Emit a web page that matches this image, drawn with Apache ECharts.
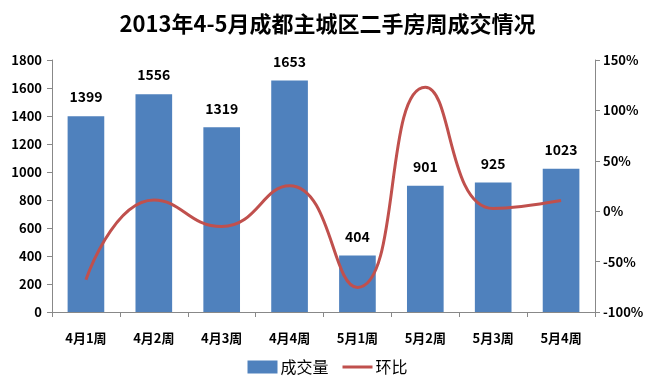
<!DOCTYPE html>
<html><head><meta charset="utf-8">
<script src="https://cdn.jsdelivr.net/npm/echarts@6/dist/echarts.min.js"></script>
<style>html,body{margin:0;padding:0;background:#fff}#c{width:655px;height:378px}</style>
</head><body><div id="c"></div>
<script>
const categories = ['4月1周','4月2周','4月3周','4月4周','5月1周','5月2周','5月3周','5月4周'];
const volume = [1399,1556,1319,1653,404,901,925,1023];
const ratio = [-68,11.2,-15.2,25.3,-75.6,123,2.7,10.6];
const leftTicks = [0,1800,200];
const rightTicks = [-100,150,50];
const font = '"Noto Sans CJK SC", sans-serif';
const chart = echarts.init(document.getElementById('c'));
chart.setOption({
  animation:false,
  title:{text:'2013年4-5月成都主城区二手房周成交情况',left:'center',top:8,
    textStyle:{fontFamily:font,fontSize:22,fontWeight:'bold',color:'#000'}},
  legend:{bottom:-2,itemGap:14,itemWidth:30,itemHeight:13,
    textStyle:{fontFamily:font,fontSize:16,color:'#000',padding:[0,0,0,-2]},
    data:[{name:'成交量',icon:'rect'},
          {name:'环比',icon:'path://M0,0 L0.01,0 M0,5 L30,5 L30,8 L0,8 Z M0,13 L0.01,13',
           itemStyle:{color:'#C0504D',borderWidth:0}}]},
  grid:{left:52,right:60,top:60,bottom:66},
  xAxis:{type:'category',data:categories,
    axisLine:{lineStyle:{color:'#888'}},
    axisTick:{show:true,length:5,lineStyle:{color:'#888'}},
    axisLabel:{fontFamily:font,fontSize:13,fontWeight:'bold',color:'#000',margin:20}},
  yAxis:[
    {type:'value',min:leftTicks[0],max:leftTicks[1],interval:leftTicks[2],
     axisLine:{show:true,lineStyle:{color:'#888'}},axisTick:{show:true,length:5,lineStyle:{color:'#888'}},
     splitLine:{show:false},
     axisLabel:{fontFamily:font,fontSize:13,fontWeight:'bold',color:'#000',margin:10,formatter:v=>String(v)}},
    {type:'value',min:rightTicks[0],max:rightTicks[1],interval:rightTicks[2],
     axisLine:{show:true,lineStyle:{color:'#888'}},axisTick:{show:true,length:5,lineStyle:{color:'#888'}},
     splitLine:{show:false},
     axisLabel:{fontFamily:font,fontSize:13,fontWeight:'bold',color:'#000',margin:8,formatter:'{value}%'}}
  ],
  series:[
    {name:'成交量',type:'bar',data:volume,barWidth:'54%',
     itemStyle:{color:'#4F81BD'},
     label:{show:true,position:'top',distance:12,fontFamily:font,fontSize:14,fontWeight:'bold',color:'#000'}},
    {name:'环比',type:'line',yAxisIndex:1,data:ratio,smooth:0.5,symbol:'none',
     lineStyle:{color:'#C0504D',width:3},itemStyle:{color:'#C0504D'}}
  ]
});
</script></body></html>
